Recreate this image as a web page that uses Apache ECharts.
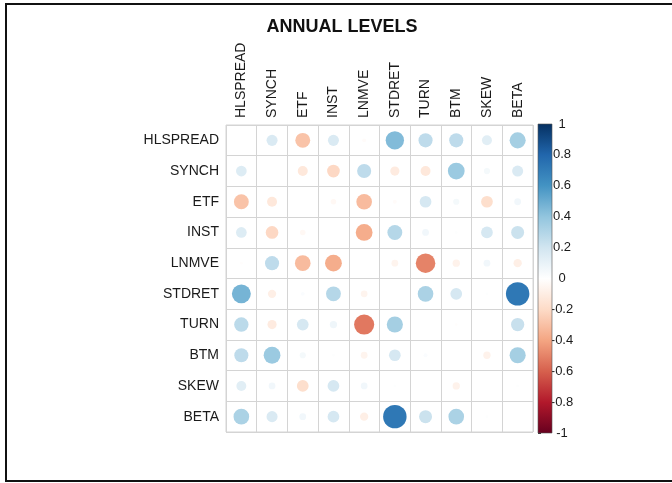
<!DOCTYPE html>
<html>
<head>
<meta charset="utf-8">
<title>Annual Levels</title>
<script src="https://cdn.jsdelivr.net/npm/echarts@6/dist/echarts.min.js"></script>
<style>
  html, body { margin: 0; padding: 0; background: #ffffff; }
  #chart { width: 672px; height: 483px; }
</style>
</head>
<body>
<div id="chart"></div>
<script>
// Variables of the correlation matrix (rows top to bottom, columns left to right)
const variables = ['HLSPREAD', 'SYNCH', 'ETF', 'INST', 'LNMVE', 'STDRET', 'TURN', 'BTM', 'SKEW', 'BETA'];

// Correlations, one row per variable; the diagonal is left blank
const rowHLSPREAD = [null, 0.16, -0.29, 0.16, -0.02, 0.44, 0.26, 0.26, 0.13, 0.34];
const rowSYNCH    = [0.15, null, -0.13, -0.21, 0.26, -0.11, -0.13, 0.37, 0.05, 0.16];
const rowETF      = [-0.29, -0.13, null, -0.04, -0.32, -0.02, 0.18, 0.05, -0.18, 0.06];
const rowINST     = [0.15, -0.21, -0.04, null, -0.37, 0.29, 0.06, 0.01, 0.18, 0.22];
const rowLNMVE    = [-0.01, 0.26, -0.32, -0.37, null, -0.06, -0.50, -0.07, 0.06, -0.09];
const rowSTDRET   = [0.47, -0.09, 0.02, 0.29, -0.06, null, 0.32, 0.18, 0.01, 0.72];
const rowTURN     = [0.27, -0.11, 0.18, 0.07, -0.53, 0.34, null, -0.01, 0.00, 0.23];
const rowBTM      = [0.26, 0.37, 0.05, 0.01, -0.06, 0.18, 0.02, null, -0.07, 0.34];
const rowSKEW     = [0.13, 0.06, -0.18, 0.18, 0.06, 0.01, 0.00, -0.07, null, 0.01];
const rowBETA     = [0.32, 0.16, 0.06, 0.18, -0.09, 0.72, 0.22, 0.32, 0.01, null];

const corrRows = [rowHLSPREAD, rowSYNCH, rowETF, rowINST, rowLNMVE, rowSTDRET, rowTURN, rowBTM, rowSKEW, rowBETA];

// Colour bar ticks
const colorbarTicks = [-1, -0.8, -0.6, -0.4, -0.2, 0, 0.2, 0.4, 0.6, 0.8, 1];

// Diverging red-blue palette, evenly spread from -1 to 1
const rdBu = ['#67001F', '#B2182B', '#D6604D', '#F4A582', '#FDDBC7', '#FFFFFF',
              '#D1E5F0', '#92C5DE', '#4393C3', '#2166AC', '#053061'];

const matrixGrid = { left: 226, top: 125, width: 307, height: 307 };
const cellPx = matrixGrid.width / variables.length;

const points = [];
corrRows.forEach(function (row, r) {
  row.forEach(function (v, c) {
    if (v !== null) points.push([variables[c], variables[r], v]);
  });
});

const labelFont = 'Liberation Sans, Arial, sans-serif';
const gridLine = '#d4d4d4';

const chart = echarts.init(document.getElementById('chart'), null, { renderer: 'canvas' });

chart.setOption({
  backgroundColor: '#ffffff',
  animation: false,
  title: {
    text: 'ANNUAL LEVELS',
    left: 337,
    textAlign: 'center',
    top: 13,
    textStyle: { fontFamily: labelFont, fontSize: 18, fontWeight: 'bold', color: '#111' }
  },
  graphic: [{
    type: 'rect',
    shape: { x: 6, y: 4, width: 700, height: 477 },
    style: { fill: 'none', stroke: '#111', lineWidth: 2 },
    silent: true,
    z: 100
  }],
  grid: [
    Object.assign({ show: true, borderColor: gridLine, borderWidth: 1, backgroundColor: '#fff' }, matrixGrid),
    { left: 538, top: 124, width: 14, height: 309 }
  ],
  xAxis: [{
    type: 'category',
    gridIndex: 0,
    data: variables,
    position: 'top',
    axisLine: { show: false },
    axisTick: { show: false },
    splitLine: { show: true, interval: 0, lineStyle: { color: gridLine, width: 1 } },
    axisLabel: {
      interval: 0, rotate: -90, margin: 7,
      fontFamily: labelFont, fontSize: 14, color: '#1a1a1a'
    }
  }, {
    type: 'value',
    gridIndex: 1,
    min: 0, max: 1,
    show: false
  }],
  yAxis: [{
    type: 'category',
    gridIndex: 0,
    data: variables,
    inverse: true,
    axisLine: { show: false },
    axisTick: { show: false },
    splitLine: { show: true, interval: 0, lineStyle: { color: gridLine, width: 1 } },
    axisLabel: {
      interval: 0, margin: 7,
      fontFamily: labelFont, fontSize: 14, color: '#1a1a1a'
    }
  }, {
    type: 'value',
    gridIndex: 1,
    position: 'right',
    min: -1, max: 1, interval: 0.2,
    axisLine: { show: false },
    splitLine: { show: false },
    axisTick: { show: true, length: 3, lineStyle: { color: '#333', width: 1 } },
    axisLabel: {
      margin: 10, align: 'center',
      fontFamily: labelFont, fontSize: 13, color: '#1a1a1a',
      formatter: function (v) {
        const t = colorbarTicks.find(function (k) { return Math.abs(k - v) < 1e-9; });
        return t === undefined ? '' : String(t);
      }
    }
  }],
  visualMap: {
    show: false,
    type: 'continuous',
    seriesIndex: 0,
    dimension: 2,
    min: -1, max: 1,
    inRange: { color: rdBu }
  },
  series: [{
    type: 'scatter',
    xAxisIndex: 0, yAxisIndex: 0,
    data: points,
    symbol: 'circle',
    symbolSize: function (val) {
      return 0.9 * Math.sqrt(Math.abs(val[2])) * cellPx;
    },
    itemStyle: { opacity: 1 },
    z: 3
  }, {
    // colour bar drawn as one rectangle spanning the value range
    type: 'custom',
    xAxisIndex: 1, yAxisIndex: 1,
    data: [[0, colorbarTicks[0], 1, colorbarTicks[colorbarTicks.length - 1]]],
    renderItem: function (params, api) {
      const p0 = api.coord([api.value(0), api.value(3)]);
      const p1 = api.coord([api.value(2), api.value(1)]);
      const stops = rdBu.slice().reverse().map(function (c, i, a) {
        return { offset: i / (a.length - 1), color: c };
      });
      return {
        type: 'rect',
        shape: { x: p0[0], y: p0[1], width: p1[0] - p0[0], height: p1[1] - p0[1] },
        style: {
          fill: new echarts.graphic.LinearGradient(0, 0, 0, 1, stops),
          stroke: '#555', lineWidth: 0.6
        }
      };
    }
  }]
});
</script>
</body>
</html>
